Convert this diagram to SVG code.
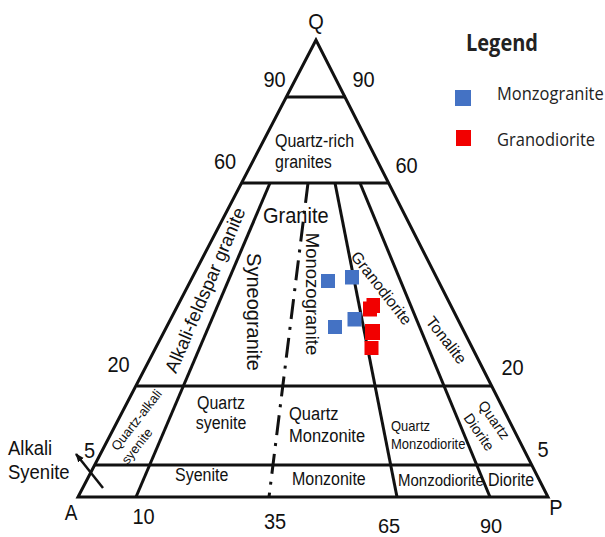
<svg xmlns="http://www.w3.org/2000/svg" width="605" height="537" viewBox="0 0 605 537">
<defs>
<style>
.ln{stroke:#111;stroke-width:3;fill:none;stroke-linejoin:miter;stroke-linecap:butt}
.dd{stroke:#111;stroke-width:3;fill:none;stroke-dasharray:20 8 3 8}
text{font-family:"Liberation Sans",Arial,sans-serif;fill:#111}
.num{font-size:20px;text-anchor:middle}
.mid{text-anchor:middle}
.lg{font-family:"Open Sans","Noto Sans",sans-serif;fill:#222}
.blue{fill:#4472C4}
.red{fill:#F20000}
</style>
<marker id="ah" markerUnits="userSpaceOnUse" markerWidth="10" markerHeight="8" refX="8" refY="3.5" orient="auto">
<path d="M0,0 L9,3.5 L0,7 z" fill="#111"/>
</marker>
</defs>
<rect width="605" height="537" fill="#fff"/>

<g id="connectors">
<path class="ln" d="M316,40 L78,497 L548,497 Z"/>
<line class="ln" x1="286" y1="97" x2="346" y2="97"/>
<line class="ln" x1="242" y1="183" x2="389" y2="183"/>
<line class="ln" x1="137" y1="386" x2="492" y2="386"/>
<line class="ln" x1="95" y1="465" x2="532" y2="465"/>
<line class="ln" x1="270" y1="183" x2="136" y2="497"/>
<line class="dd" x1="308" y1="183" x2="269" y2="497"/>
<line class="ln" x1="335" y1="183" x2="397" y2="497"/>
<line class="ln" x1="360" y1="183" x2="490" y2="497"/>
<line stroke="#111" stroke-width="2.5" x1="103" y1="488" x2="76" y2="454" marker-end="url(#ah)"/>
</g>

<g id="axis-labels">
<text transform="translate(316,29) scale(1,1.12)" font-size="20" class="mid">Q</text>
<text transform="translate(71,520) scale(1,1.12)" font-size="19" class="mid">A</text>
<text transform="translate(556,515) scale(1,1.12)" font-size="20" class="mid">P</text>
<text class="num" transform="translate(274.5,87) scale(1,1.12)">90</text>
<text class="num" transform="translate(363.5,87) scale(1,1.12)">90</text>
<text class="num" transform="translate(225,169) scale(1,1.12)">60</text>
<text class="num" transform="translate(406.5,173) scale(1,1.12)">60</text>
<text class="num" transform="translate(118.5,372) scale(1,1.12)">20</text>
<text class="num" transform="translate(512.5,375) scale(1,1.12)">20</text>
<text class="num" transform="translate(89.5,458) scale(1,1.12)">5</text>
<text class="num" transform="translate(543,457) scale(1,1.12)">5</text>
<text class="num" transform="translate(143.5,524) scale(1,1.12)">10</text>
<text class="num" transform="translate(275,529) scale(1,1.12)">35</text>
<text class="num" x="389" y="533">65</text>
<text class="num" x="491" y="533">90</text>
<text transform="translate(8,455) scale(1,1.12)" font-size="18.5">Alkali</text>
<text transform="translate(8,479) scale(1,1.12)" font-size="18.5">Syenite</text>
</g>

<g id="field-quartz-rich"><text transform="translate(275,147) scale(1,1.1)" font-size="16">Quartz-rich</text><text transform="translate(275,168) scale(1,1.1)" font-size="16">granites</text></g>
<g id="field-granite"><text transform="translate(263,223) scale(1,1.1)" font-size="20">Granite</text></g>
<g id="field-alkali-feldspar-granite"><text transform="translate(205,290) rotate(-66.9)" x="0" y="6.5" font-size="18.5" class="mid">Alkali-feldspar granite</text></g>
<g id="field-syeneogranite"><text transform="translate(254,312) rotate(90)" x="0" y="7" font-size="20" class="mid">Syneogranite</text></g>
<g id="field-monzogranite"><text transform="translate(312,294) rotate(90)" x="0" y="6.5" font-size="18.5" class="mid">Monozogranite</text></g>
<g id="field-granodiorite"><text transform="translate(381.5,288) rotate(52)" x="0" y="5.6" font-size="16" class="mid">Granodiorite</text></g>
<g id="field-tonalite"><text transform="translate(446.5,340) rotate(52)" x="0" y="5.6" font-size="16" class="mid">Tonalite</text></g>
<g id="field-quartz-alkali-syenite">
<text transform="translate(136.5,420) rotate(-52)" x="0" y="4.5" font-size="13" class="mid">Quartz-alkali</text>
<text transform="translate(137,446) rotate(-52)" x="0" y="4.5" font-size="13" class="mid">syenite</text>
</g>
<g id="field-quartz-syenite"><text transform="translate(221,409) scale(1,1.1)" font-size="16" class="mid">Quartz</text><text transform="translate(221,429) scale(1,1.1)" font-size="16" class="mid">syenite</text></g>
<g id="field-quartz-monzonite"><text transform="translate(289,420) scale(1,1.1)" font-size="16.5">Quartz</text><text transform="translate(289,441.5) scale(1,1.1)" font-size="16.5">Monzonite</text></g>
<g id="field-quartz-monzodiorite"><text transform="translate(391,431) scale(1,1.1)" font-size="13">Quartz</text><text transform="translate(391,449) scale(1,1.1)" font-size="13">Monzodiorite</text></g>
<g id="field-quartz-diorite">
<text transform="translate(494,420) rotate(55)" x="0" y="5" font-size="14.5" class="mid">Quartz</text>
<text transform="translate(479,432) rotate(55)" x="0" y="5" font-size="14.5" class="mid">Diorite</text>
</g>
<g id="field-syenite"><text transform="translate(175,481) scale(1,1.1)" font-size="16">Syenite</text></g>
<g id="field-monzonite"><text transform="translate(292,485) scale(1,1.1)" font-size="16">Monzonite</text></g>
<g id="field-monzodiorite"><text transform="translate(398,486) scale(1,1.15)" font-size="15">Monzodiorite</text></g>
<g id="field-diorite"><text transform="translate(488,486) scale(1,1.1)" font-size="16">Diorite</text></g>

<g id="data-monzogranite" class="blue">
<rect x="321" y="274" width="14" height="14"/>
<rect x="345" y="270" width="14" height="14.5"/>
<rect x="328" y="320" width="14" height="14"/>
<rect x="347.5" y="312" width="14" height="14.5"/>
</g>
<g id="data-granodiorite" class="red">
<rect x="366.5" y="298" width="13.5" height="15"/>
<rect x="363" y="301.5" width="14" height="15"/>
<rect x="365" y="324" width="15" height="16"/>
<rect x="364.5" y="341" width="14" height="14"/>
</g>

<g id="legend">
<text class="lg" transform="translate(466,51) scale(1,1.15)" font-size="20" font-weight="700">Legend</text>
<rect class="blue" x="455" y="90" width="16" height="16"/>
<text class="lg" transform="translate(497,100) scale(1,1.12)" font-size="16.5">Monzogranite</text>
<rect class="red" x="456" y="130" width="15" height="16"/>
<text class="lg" transform="translate(497,145.5) scale(1,1.12)" font-size="16.5">Granodiorite</text>
</g>
</svg>
